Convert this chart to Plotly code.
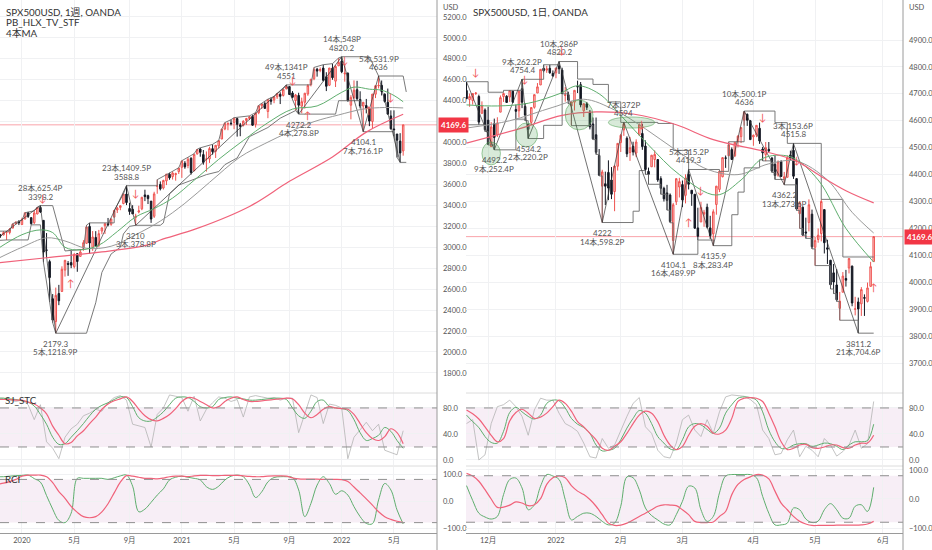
import pandas as pd
import plotly.graph_objects as go
from plotly.subplots import make_subplots

FONT = "Lato, Noto Sans CJK JP, DejaVu Sans"
W, H = 932, 550

# ---------------- weekly candles, weeks starting 2019-11-11 ----------------
w_open = [3080, 3118, 3117, 3144, 3141, 3183, 3225, 3240,
          3217, 3271, 3330, 3283, 3235, 3318, 3380, 3257, 2974, 2863, 2508, 2290, 2558, 2578, 2782,
          2846, 2854, 2815, 2938, 2913, 2990, 3038, 3199, 3000, 3094, 3018, 3155, 3205, 3224, 3219,
          3288, 3356, 3380, 3418, 3508, 3370, 3363, 3285, 3337, 3367, 3500, 3493, 3441, 3296, 3583,
          3600, 3566, 3634, 3698, 3675, 3694, 3723,
          3764, 3803, 3781, 3851, 3732, 3892, 3939, 3885, 3842, 3844, 3942, 3916, 3969, 4034, 4130,
          4179, 4186, 4192, 4229, 4169, 4165, 4210, 4230, 4250, 4174, 4285, 4352, 4372, 4297, 4409,
          4406, 4437, 4461, 4450, 4514, 4535, 4474, 4402, 4450, 4348, 4385, 4464, 4553, 4610, 4701,
          4689, 4712, 4628, 4548, 4710, 4587, 4733,
          4778, 4655, 4663, 4357, 4431, 4505, 4412, 4349, 4354, 4327, 4202, 4462, 4541, 4547, 4462,
          4385, 4255, 4130, 4082, 4014, 3920]
w_high = [3121, 3127, 3154, 3150, 3183, 3226, 3248, 3259,
          3282, 3330, 3338, 3285, 3348, 3385, 3398.2, 3259, 3136, 2882, 2553, 2615, 2641, 2818, 2880,
          2869, 2965, 2945, 2945, 2980, 3068, 3211, 3233, 3155, 3154, 3166, 3190, 3233, 3280, 3272,
          3352, 3387, 3399, 3509, 3588.8, 3425, 3402, 3320, 3397, 3482, 3550, 3502, 3441, 3530, 3646,
          3629, 3645, 3699, 3712, 3726, 3712, 3760,
          3827, 3823, 3860, 3859, 3894, 3937, 3950, 3929, 3915, 3960, 3983, 3975, 4020, 4130, 4191,
          4195, 4219, 4238, 4237, 4188, 4213, 4236, 4255, 4262, 4286, 4356, 4372, 4393, 4415, 4430,
          4441, 4469, 4481, 4513, 4551, 4535, 4492, 4465, 4476, 4429, 4475, 4559, 4608, 4718, 4714,
          4718, 4744, 4672, 4713, 4754, 4740, 4808,
          4820.2, 4749, 4670, 4453, 4594, 4590, 4490, 4385, 4417, 4327, 4465, 4546, 4636, 4593, 4471,
          4516, 4308, 4308, 4082, 4090, 4170]
w_low = [3065, 3091, 3114, 3070, 3123, 3183, 3222, 3212,
         3214, 3264, 3280, 3214, 3222, 3315, 3328, 2855, 2900, 2478, 2280, 2179.3, 2447, 2573, 2720,
         2727, 2800, 2797, 2766, 2910, 2967, 3031, 2936, 2966, 3004, 3000, 3125, 3127, 3200, 3205,
         3284, 3327, 3354, 3410, 3403, 3310, 3323, 3210, 3324, 3354, 3441, 3413, 3233, 3280, 3511,
         3543, 3552, 3594, 3645, 3647, 3636, 3700,
         3663, 3750, 3755, 3694, 3725, 3885, 3865, 3789, 3723, 3806, 3885, 3853, 3944, 4034, 4118,
         4118, 4164, 4128, 4057, 4061, 4154, 4168, 4215, 4159, 4144, 4271, 4321, 4322, 4233, 4362,
         4376, 4417, 4368, 4440, 4508, 4457, 4423, 4306, 4272.2, 4280, 4324, 4447, 4537, 4596, 4630,
         4672, 4585, 4492, 4540, 4600, 4531, 4733,
         4663, 4582, 4395, 4222, 4415, 4401, 4327, 4104.1, 4279, 4157, 4136, 4425, 4517, 4450, 4382,
         4267, 4124, 4062, 3859, 3811.2, 3875]
w_close = [3120, 3110, 3141, 3146, 3169, 3221, 3240, 3235,
           3265, 3330, 3295, 3226, 3328, 3380, 3338, 2954, 2972, 2711, 2305, 2541, 2489, 2790, 2875,
           2837, 2830, 2930, 2864, 2955, 3044, 3194, 3041, 3098, 3009, 3130, 3185, 3225, 3216, 3271,
           3351, 3373, 3397, 3508, 3427, 3341, 3319, 3298, 3348, 3477, 3484, 3465, 3270, 3510, 3585,
           3558, 3638, 3699, 3663, 3709, 3703, 3756,
           3824, 3768, 3841, 3714, 3887, 3934, 3907, 3811, 3842, 3943, 3913, 3974, 4019, 4129, 4185,
           4180, 4181, 4232, 4174, 4156, 4204, 4230, 4247, 4166, 4281, 4352, 4370, 4327, 4412, 4395,
           4437, 4468, 4442, 4509, 4535, 4459, 4433, 4455, 4357, 4391, 4471, 4545, 4605, 4698, 4683,
           4698, 4595, 4538, 4712, 4620, 4727, 4766,
           4677, 4663, 4398, 4432, 4501, 4419, 4349, 4385, 4329, 4205, 4463, 4543, 4546, 4488, 4393,
           4272, 4132, 4123, 4023, 3901, 4169.6]
w_dates = pd.date_range("2019-11-11", periods=len(w_close), freq="7D")

# ---------------- daily candles 2021-11-22 .. 2022-05-27 ----------------
d_open = [4712, 4679, 4675, 4701, 4690, 4628, 4640,
          4602, 4504, 4589, 4548, 4632, 4690, 4691, 4688, 4710, 4642, 4637, 4719, 4653, 4587, 4594,
          4650, 4703, 4733, 4795, 4788, 4795, 4776,
          4778, 4804, 4788, 4694, 4697, 4655, 4669, 4728, 4734, 4637, 4663, 4632, 4588, 4548, 4471,
          4357, 4366, 4408, 4380, 4337, 4431,
          4519, 4566, 4535, 4482, 4505, 4480, 4547, 4553, 4506, 4412, 4429, 4456, 4456, 4385, 4349,
          4332, 4324, 4155, 4299, 4354,
          4363, 4323, 4401, 4342, 4327, 4202, 4224, 4253, 4279, 4202, 4180, 4289, 4345, 4392, 4462,
          4470, 4493, 4470, 4523, 4541, 4602, 4624, 4600,
          4540, 4547, 4572, 4495, 4474, 4494, 4462, 4438, 4398, 4449, 4385, 4390, 4473, 4490, 4385,
          4255, 4279, 4187, 4222, 4253,
          4130, 4159, 4181, 4270, 4128, 4082, 4035, 3990, 3903, 3963, 4014, 4053, 4060, 3900, 3927,
          3920, 3943, 3929, 3985, 4077]
d_high = [4744.6, 4701, 4702, 4706, 4697, 4672, 4646,
          4652, 4595, 4608, 4613, 4694, 4705, 4695, 4713, 4711, 4660, 4712, 4754.4, 4666, 4587, 4651,
          4697, 4740, 4791, 4808, 4804, 4808, 4787,
          4796, 4820.2, 4797, 4725, 4708, 4673, 4714, 4749, 4744, 4665, 4670, 4640, 4612, 4612, 4495,
          4418, 4411, 4453, 4428, 4432, 4516,
          4551, 4594, 4542, 4540, 4522, 4531, 4590, 4589, 4527, 4426, 4473, 4490, 4456, 4394, 4355,
          4362, 4330, 4295, 4385, 4388,
          4378, 4401, 4419.3, 4342, 4327, 4277, 4299, 4269, 4292, 4247, 4271, 4358, 4412, 4465, 4471,
          4522, 4501, 4520, 4546, 4575, 4636, 4627, 4603,
          4549, 4583, 4593, 4503, 4521, 4521, 4464, 4471, 4453, 4453, 4410, 4471, 4489, 4515.8, 4386,
          4299, 4279, 4240, 4308, 4270,
          4169, 4200, 4308, 4270, 4158, 4082, 4068, 4049, 3964, 4038, 4046, 4090, 4062, 3946, 3943,
          3982, 3955, 3999, 4076, 4170]
d_low = [4682, 4652, 4660, 4696, 4585, 4625, 4560,
         4510, 4504, 4492.2, 4540, 4632, 4670, 4666, 4670, 4666, 4606, 4612, 4647, 4600, 4534.2, 4583,
         4645, 4703, 4733, 4780, 4778, 4775, 4765,
         4758, 4774, 4700, 4671, 4663, 4582, 4638, 4703, 4650, 4614, 4640, 4568, 4530, 4475, 4395,
         4222, 4287, 4305, 4309, 4264, 4415,
         4484, 4544, 4465, 4451, 4471, 4465, 4547, 4492, 4401, 4364, 4429, 4427, 4373, 4327, 4300,
         4268, 4221, 4104.1, 4287, 4315,
         4279, 4293, 4345, 4284, 4199, 4157, 4224, 4206, 4200, 4161, 4135.9, 4251, 4335, 4390, 4425,
         4469, 4455, 4465, 4501, 4517, 4582, 4581, 4530,
         4507, 4539, 4514, 4451, 4450, 4483, 4408, 4382, 4392, 4392, 4362.2, 4390, 4452, 4384, 4267,
         4200, 4175, 4163, 4189, 4124,
         4062, 4147, 4152, 4107, 4068, 3975, 3958, 3929, 3859, 3963, 3984, 4033, 3911, 3877, 3811.2,
         3875, 3875, 3925, 3985, 4077]
d_close = [4682, 4690, 4701, 4703, 4595, 4655, 4567,
           4513, 4577, 4538, 4592, 4686, 4701, 4668, 4712, 4669, 4635, 4710, 4669, 4621, 4568, 4649,
           4697, 4726, 4791, 4786, 4793, 4778, 4766,
           4796, 4793, 4701, 4696, 4677, 4670, 4713, 4726, 4659, 4663, 4650, 4577, 4533, 4483, 4398,
           4410, 4357, 4350, 4327, 4432, 4516,
           4546, 4589, 4477, 4500, 4484, 4521, 4587, 4504, 4419, 4401, 4472, 4475, 4380, 4349, 4310,
           4304, 4226, 4288, 4385, 4374,
           4306, 4387, 4364, 4329, 4201, 4171, 4278, 4260, 4205, 4173, 4262, 4357, 4412, 4463, 4461,
           4511, 4456, 4520, 4543, 4575, 4631, 4602, 4530,
           4546, 4583, 4525, 4481, 4500, 4488, 4413, 4397, 4447, 4393, 4392, 4463, 4460, 4394, 4272,
           4296, 4175, 4183, 4288, 4132,
           4155, 4175, 4300, 4147, 4123, 3991, 4001, 3935, 3930, 4023, 4008, 4088, 3923, 3901, 3901,
           3973, 3941, 3979, 4058, 4169.6]
d_skip = ["2021-12-24", "2022-04-15"]
d_dates = [d for d in pd.bdate_range("2021-11-22", "2022-05-27") if d.strftime("%Y-%m-%d") not in d_skip]

last_price = 4169.6

# ---------------- moving averages ----------------
w_ma_green_x = ["2019-11-11", "2020-01-06", "2020-02-17", "2020-03-16", "2020-04-13", "2020-05-18",
                "2020-06-29", "2020-08-10", "2020-09-21", "2020-11-02", "2020-12-14", "2021-02-01",
                "2021-03-29", "2021-05-24", "2021-07-19", "2021-09-13", "2021-11-08", "2022-01-03",
                "2022-01-31", "2022-03-07", "2022-04-04", "2022-05-02", "2022-05-23"]
w_ma_green = [2984, 3120, 3166, 3140, 3000, 2975, 3020, 3150, 3290, 3370, 3470, 3640,
              3840, 4020, 4190, 4320, 4350, 4480, 4530, 4510, 4500, 4450, 4390]
w_ma_gray_x = ["2019-11-11", "2020-01-06", "2020-03-02", "2020-04-13", "2020-06-01", "2020-07-27",
               "2020-09-21", "2020-11-16", "2021-01-11", "2021-03-08", "2021-05-17", "2021-07-12",
               "2021-09-06", "2021-11-01", "2021-12-27", "2022-02-21", "2022-04-11", "2022-05-23"]
w_ma_gray = [2890, 3000, 3090, 3060, 2990, 3010, 3120, 3250, 3420, 3620, 3863, 3990,
             4102, 4200, 4264, 4320, 4335, 4331]
w_ma_red_x = ["2019-11-11", "2020-03-02", "2020-07-06", "2020-10-19", "2020-11-16", "2021-02-08",
              "2021-06-07", "2021-09-06", "2021-12-13", "2022-02-28", "2022-05-23"]
w_ma_red = [2850, 2900, 2956, 3023, 3070, 3180, 3390, 3630, 3863, 4100, 4270]

d_ma_green_x = ["2021-11-22", "2021-12-06", "2021-12-20", "2022-01-04", "2022-01-12", "2022-01-21",
                "2022-02-01", "2022-02-14", "2022-02-28", "2022-03-16", "2022-03-28", "2022-04-06",
                "2022-04-20", "2022-05-03", "2022-05-16", "2022-05-27"]
d_ma_green = [4659, 4655, 4665, 4700, 4730, 4700, 4620, 4510, 4400, 4324, 4380, 4460,
              4466, 4380, 4200, 4075]
d_ma_gray_x = ["2021-11-22", "2021-12-10", "2021-12-31", "2022-01-14", "2022-01-28", "2022-02-11",
               "2022-02-25", "2022-03-11", "2022-03-25", "2022-04-08", "2022-04-22", "2022-05-06",
               "2022-05-18", "2022-05-27"]
d_ma_gray = [4573, 4600, 4650, 4680, 4640, 4570, 4490, 4420, 4400, 4440, 4450, 4380, 4260, 4183]
d_ma_red_x = ["2021-11-22", "2021-12-15", "2022-01-05", "2022-01-20", "2022-02-07", "2022-02-25",
              "2022-03-15", "2022-04-07", "2022-04-22", "2022-05-03", "2022-05-16", "2022-05-27"]
d_ma_red = [4517, 4570, 4620, 4633, 4625, 4585, 4530, 4485, 4450, 4400, 4340, 4295]

# ---------------- PB_HLX channel + zigzag ----------------
w_up_x = ["2019-11-11", "2019-12-09", "2019-12-16", "2020-01-06", "2020-01-13", "2020-02-03",
          "2020-02-10", "2020-02-17", "2020-03-16", "2020-04-13", "2020-05-25", "2020-06-01",
          "2020-06-08", "2020-08-03", "2020-08-03", "2020-08-24", "2020-08-31", "2020-11-09",
          "2020-11-09", "2020-11-30", "2020-12-14", "2020-12-28", "2021-01-04", "2021-01-18",
          "2021-02-01", "2021-02-08", "2021-02-15", "2021-03-15", "2021-03-29", "2021-04-05",
          "2021-04-12", "2021-04-26", "2021-05-03", "2021-06-07", "2021-06-21", "2021-06-28",
          "2021-07-12", "2021-07-19", "2021-08-02", "2021-08-09", "2021-08-23", "2021-08-30",
          "2021-10-25", "2021-11-01", "2021-11-22", "2021-12-13", "2021-12-27", "2022-01-03",
          "2022-03-07", "2022-03-28", "2022-05-23", "2022-05-30"]
w_up = [3154, 3154, 3226, 3259, 3330, 3348, 3385, 3398, 3398, 2965, 2980, 3211,
        3233, 3233, 3352, 3509, 3588, 3588, 3646, 3699, 3726, 3760, 3827, 3860,
        3894, 3937, 3950, 3983, 4020, 4130, 4191, 4219, 4238, 4255, 4286, 4356,
        4393, 4415, 4441, 4469, 4513, 4551, 4551, 4718, 4744, 4754, 4808, 4820,
        4820, 4636, 4636, 4484]
w_lo_x = ["2019-11-11", "2019-12-02", "2020-01-20", "2020-01-27", "2020-02-17", "2020-02-24",
          "2020-03-09", "2020-03-16", "2020-03-23", "2020-06-01", "2020-06-22", "2020-07-06",
          "2020-07-27", "2020-08-17", "2020-08-24", "2020-09-07", "2020-09-21", "2020-11-16",
          "2020-11-23", "2020-12-07", "2020-12-28", "2021-01-25", "2021-02-08", "2021-03-01",
          "2021-03-29", "2021-04-12", "2021-05-10", "2021-06-07", "2021-07-19", "2021-08-16",
          "2021-09-20", "2021-09-27", "2021-12-20", "2021-12-27", "2022-02-14", "2022-02-21",
          "2022-05-02", "2022-05-09", "2022-05-16", "2022-05-30"]
w_lo = [3065, 3070, 3070, 3214, 3214, 2855, 2478, 2280, 2179, 2179, 2470, 2760,
        2936, 3000, 3127, 3200, 3210, 3210, 3233, 3511, 3594, 3636, 3663, 3694,
        3723, 3789, 3853, 4057, 4144, 4233, 4306, 4272, 4272, 4400, 4400, 4104,
        4104, 3859, 3811, 3811]
w_zz_x = ["2019-08-05", "2020-02-17", "2020-03-23", "2020-08-31", "2020-09-21", "2021-08-30",
          "2021-09-27", "2022-01-03", "2022-02-21", "2022-03-28", "2022-05-16"]
w_zz = [2772.8, 3398.2, 2179.3, 3588.8, 3210, 4551, 4272.2, 4820.2, 4104.1, 4636, 3811.2]

d_up_x = ["2021-11-22", "2021-12-01", "2021-12-08", "2021-12-16", "2021-12-28", "2022-01-04",
          "2022-01-12", "2022-01-19", "2022-01-26", "2022-02-01", "2022-02-17", "2022-02-24",
          "2022-03-03", "2022-03-17", "2022-03-22", "2022-03-29", "2022-04-12", "2022-04-19",
          "2022-05-04", "2022-05-13", "2022-05-27"]
d_up = [4745, 4706, 4713, 4754, 4808, 4820, 4755, 4735, 4670, 4594, 4590, 4490,
        4419, 4412, 4522, 4636, 4593, 4516, 4308, 4094, 4094]
d_lo_x = ["2021-11-22", "2021-11-30", "2021-12-01", "2021-12-03", "2021-12-14", "2021-12-17",
          "2021-12-20", "2021-12-28", "2022-01-05", "2022-01-07", "2022-01-10", "2022-01-19",
          "2022-01-20", "2022-01-21", "2022-01-24", "2022-02-07", "2022-02-09", "2022-02-11",
          "2022-02-14", "2022-02-18", "2022-02-22", "2022-02-23", "2022-02-24", "2022-03-08",
          "2022-03-15", "2022-03-23", "2022-03-25", "2022-03-29", "2022-04-05", "2022-04-06",
          "2022-04-11", "2022-04-12", "2022-04-18", "2022-04-22", "2022-04-25", "2022-04-26",
          "2022-04-27", "2022-04-29", "2022-05-02", "2022-05-09", "2022-05-10", "2022-05-11",
          "2022-05-12", "2022-05-20", "2022-05-27"]
d_lo = [4585, 4560, 4510, 4492, 4606, 4600, 4534, 4583, 4700, 4663, 4582, 4530,
        4475, 4395, 4222, 4264, 4415, 4401, 4364, 4327, 4268, 4221, 4104, 4157,
        4136, 4251, 4335, 4425, 4455, 4451, 4408, 4382, 4362, 4267, 4200, 4175,
        4163, 4124, 4062, 3975, 3958, 3929, 3859, 3811, 3811]
d_zz_x = ["2021-11-22", "2021-12-03", "2021-12-16", "2021-12-20", "2022-01-04", "2022-01-24",
          "2022-02-02", "2022-02-24", "2022-03-03", "2022-03-15", "2022-03-29", "2022-04-18",
          "2022-04-21", "2022-05-20"]
d_zz = [4744.6, 4492.2, 4754.4, 4534.2, 4820.2, 4222, 4594, 4104.1, 4419.3, 4135.9, 4636,
        4362.2, 4515.8, 3811.2]

# swing labels
w_lab_x = ["2020-02-17", "2020-03-23", "2020-08-31", "2020-09-21", "2021-08-30", "2021-09-27",
           "2022-01-03", "2022-02-21", "2022-03-28"]
w_lab_y = [3398.2, 2179.3, 3588.8, 3210, 4551, 4272.2, 4820.2, 4104.1, 4636]
w_lab_text = ["28本,625.4P<br>3398.2", "2179.3<br>5本,1218.9P", "23本,1409.5P<br>3588.8",
              "3210<br>3本,378.8P", "49本,1341P<br>4551", "4272.2<br>4本,278.8P",
              "14本,548P<br>4820.2", "4104.1<br>7本,716.1P", "5本,531.9P<br>4636"]
d_lab_x = ["2021-12-03", "2021-12-16", "2021-12-20", "2022-01-04", "2022-01-24", "2022-02-02",
           "2022-02-24", "2022-03-03", "2022-03-15", "2022-03-29", "2022-04-18", "2022-04-21",
           "2022-05-20"]
d_lab_y = [4492.2, 4754.4, 4534.2, 4820.2, 4222, 4594, 4104.1, 4419.3, 4135.9, 4636, 4362.2,
           4515.8, 3811.2]
d_lab_text = ["4492.2<br>9本,252.4P", "9本,262.2P<br>4754.4", "4534.2<br>2本,220.2P",
              "10本,286P<br>4820.2", "4222<br>14本,598.2P", "7本,372P<br>4594",
              "4104.1<br>16本,489.9P", "5本,315.2P<br>4419.3", "4135.9<br>8本,283.4P",
              "10本,500.1P<br>4636", "4362.2<br>13本,273.6P", "3本,153.6P<br>4515.8",
              "3811.2<br>21本,704.6P"]

# signal arrows
w_arrow_x = ["2020-02-24", "2020-09-21", "2020-04-27", "2021-09-13", "2021-10-18", "2022-01-10",
             "2022-04-25", "2022-03-07"]
w_arrow_y = [3471, 3519, 2659, 4598, 4264, 4789, 4436, 4311]
w_arrow = ["↓", "↓", "↑", "↓", "↑", "↓", "↓", "↑"]
d_arrow_x = ["2021-11-25", "2021-12-17", "2022-01-05", "2022-02-10", "2022-03-09", "2022-03-03",
             "2022-04-06", "2022-04-22", "2022-05-27"]
d_arrow_y = [4781, 4755, 4863, 4588, 4343, 4224, 4614, 4454, 3983]
d_arrow = ["↓", "↓", "↓", "↓", "↓", "↑", "↓", "↓", "↑"]

# highlighted zones (daily)
d_zone_x0 = ["2021-11-29", "2021-12-14", "2022-01-06", "2022-01-26"]
d_zone_x1 = ["2021-12-07", "2021-12-23", "2022-01-19", "2022-02-16"]
d_zone_y0 = [4436, 4503, 4566, 4573]
d_zone_y1 = [4521, 4592, 4677, 4614]

# ---------------- SJ_STC / RCI (every 2nd bar) ----------------
w_stc_gray = [95, 95, 92, 90, 92, 85, 62, 85, 28, 18, 2, 35, 48, 55, 68, 72, 78, 75, 88, 96,
              99, 92, 55, 52, 50, 20, 70, 80, 100, 98, 96, 75, 98, 60, 78, 88, 97, 95, 90, 93,
              66, 97, 99, 97, 95, 96, 92, 95, 95, 42, 72, 100, 96, 56, 86, 84, 80, 2, 35, 47,
              58, 45, 55, 15, 12, 8, 45]
w_stc_green = [95, 95, 94, 93, 91, 89, 83, 70, 55, 35, 24, 25, 35, 45, 56, 68, 78, 84, 88, 93,
               97, 96, 82, 65, 60, 60, 66, 74, 85, 95, 97, 96, 90, 82, 80, 82, 93, 96, 97, 95,
               94, 92, 92, 93, 94, 95, 95, 93, 80, 68, 64, 75, 90, 92, 82, 80, 79, 76, 62, 42,
               30, 33, 38, 50, 44, 30, 18]
w_stc_red = [93, 93, 93, 92, 92, 89, 86, 80, 71, 52, 38, 25, 27, 37, 45, 56, 66, 78, 86, 91,
             94, 97, 90, 78, 68, 62, 60, 64, 70, 79, 90, 96, 95, 90, 85, 80, 82, 90, 95, 97,
             93, 90, 90, 91, 92, 93, 94, 95, 94, 85, 72, 65, 70, 78, 82, 80, 79, 78, 70, 56,
             42, 33, 30, 36, 48, 42, 25]
w_rci_green = [90, 90, 92, 94, 95, 96, 83, 70, 20, -30, -72, -80, -45, 84, 84, 84, 84, 84, 80, 86,
               93, 96, 55, -40, -30, -5, 22, 45, 78, 88, 92, 88, 84, 78, 53, 43, 55, 78, 92, 96,
               90, 59, 13, 34, 71, 87, 90, 90, 87, 41, -58, -9, 59, 90, 65, 25, 38, 22, -21, -58,
               -83, -84, 4, 65, 41, -33, -85]
w_rci_red = [62, 66, 72, 80, 92, 96, 96, 96, 90, 68, 35, 10, -20, -42, -58, -62, -58, -40, -10, 30,
             70, 94, 92, 88, 84, 84, 82, 85, 90, 92, 92, 90, 93, 95, 95, 94, 94, 95, 95, 95,
             93, 91, 90, 90, 92, 93, 93, 92, 86, 82, 81, 81, 81, 80, 80, 80, 79, 72, 52, 30,
             8, -15, -40, -58, -68, -75, -80]

d_stc_gray = [56, 62, 0, 8, 56, 82, 85, 92, 82, 67, 38, 77, 95, 92, 92, 72, 56, 51, 44, 26,
              5, 3, 33, 18, 23, 46, 67, 87, 96, 51, 41, 15, 5, 3, 26, 62, 69, 46, 36, 62,
              41, 74, 97, 100, 99, 98, 93, 85, 46, 33, 8, 10, 31, 46, 5, 21, 15, 5, 33, 23,
              6, 13, 23, 46, 18, 25, 90]
d_stc_green = [69, 59, 50, 36, 27, 26, 44, 73, 81, 74, 67, 63, 69, 87, 92, 91, 80, 64, 55, 50,
               41, 23, 14, 15, 18, 31, 49, 64, 76, 72, 56, 36, 26, 17, 16, 31, 51, 56, 54, 47,
               41, 49, 72, 85, 95, 97, 96, 92, 74, 46, 28, 18, 18, 23, 25, 25, 21, 23, 26, 25,
               21, 16, 23, 28, 28, 30, 55]
d_stc_red = [77, 71, 63, 51, 38, 28, 33, 60, 73, 78, 72, 64, 66, 72, 82, 92, 87, 75, 59, 51,
             41, 31, 18, 15, 21, 28, 41, 56, 69, 75, 72, 59, 38, 23, 16, 21, 38, 52, 56, 52,
             41, 40, 46, 64, 90, 95, 96, 95, 90, 72, 51, 28, 16, 18, 23, 24, 19, 18, 20, 23,
             23, 19, 18, 23, 26, 26, 38]
d_rci_green = [46, -5, -49, -62, -69, -60, 15, 67, 72, 38, -37, -20, 44, 84, 79, 67, -2, -72, -60, -49,
               -49, -60, -77, -89, -83, -25, 76, 73, 32, -31, -57, -72, -86, -89, -54, -8, 44, 38, -37, -77,
               -60, 21, 79, 84, 84, 84, 84, 73, 9, -49, -89, -89, -83, -31, -37, -69, -81, -76, -37, -16,
               -37, -66, -66, -25, -20, -43, 40]
d_rci_red = [88, 79, 61, 32, 0, -29, -28, -21, -10, -14, -23, -20, 1, 50, 73, 79, 73, 46, 27, 15,
             -2, -25, -54, -83, -91, -90, -83, -72, -60, -49, -37, -25, -20, -21, -23, -37, -54, -77, -81, -81,
             -79, -60, -43, 15, 50, 67, 76, 84, 82, 69, 27, -14, -37, -60, -77, -86, -91, -91, -91, -91,
             -90, -90, -90, -90, -89, -86, -77]

w_osc_x = w_dates[::2]
d_osc_x = d_dates[::2]

# axis ticks
w_tick_vals = ["2020-01-06", "2020-05-04", "2020-09-07", "2021-01-04", "2021-05-03", "2021-09-06",
               "2022-01-03", "2022-05-02"]
w_tick_text = ["2020", "5月", "9月", "2021", "5月", "9月", "2022", "5月"]
d_tick_vals = ["2021-12-01", "2022-01-03", "2022-02-01", "2022-03-01", "2022-04-01", "2022-05-02",
               "2022-06-01"]
d_tick_text = ["12月", "2022", "2月", "3月", "4月", "5月", "6月"]
w_price_ticks = list(range(1800, 5201, 200))
d_price_ticks = list(range(3700, 4901, 100))

# ---------------- colours ----------------
C_UP_LINE, C_UP_FILL = "#ef5350", "#fbd0d0"
C_DN = "#131722"
C_GREEN, C_GRAY, C_RED = "#5fae6e", "#9a9a9a", "#f0627a"
C_CHAN, C_ZZ = "#6a6a6a", "#333333"
C_TXT = "#555555"
BAND = "#f7eef6"

fig = make_subplots(rows=3, cols=2, shared_xaxes=True, horizontal_spacing=0.05, vertical_spacing=0.01)


def add_line(x, y, color, width, row, col, shape="linear"):
    fig.add_trace(go.Scatter(x=x, y=y, mode="lines", line=dict(color=color, width=width, shape=shape),
                             hoverinfo="skip", showlegend=False), row=row, col=col)


def add_candles(x, o, h, l, c, col):
    fig.add_trace(go.Candlestick(x=x, open=o, high=h, low=l, close=c, whiskerwidth=0,
                                 increasing=dict(line=dict(color=C_UP_LINE, width=1), fillcolor=C_UP_FILL),
                                 decreasing=dict(line=dict(color=C_DN, width=1), fillcolor=C_DN),
                                 showlegend=False, hoverinfo="skip"), row=1, col=col)


# ---- left: weekly ----
add_candles(w_dates, w_open, w_high, w_low, w_close, 1)
add_line(w_up_x, w_up, C_CHAN, 0.9, 1, 1)
add_line(w_lo_x, w_lo, C_CHAN, 0.9, 1, 1)
add_line(w_zz_x, w_zz, C_ZZ, 0.7, 1, 1)
add_line(w_ma_gray_x, w_ma_gray, C_GRAY, 1, 1, 1, "spline")
add_line(w_ma_green_x, w_ma_green, C_GREEN, 1, 1, 1, "spline")
add_line(w_ma_red_x, w_ma_red, C_RED, 1.2, 1, 1, "spline")
add_line(w_osc_x, w_stc_gray, "#b4b4b4", 0.8, 2, 1)
add_line(w_osc_x, w_stc_green, C_GREEN, 1, 2, 1, "spline")
add_line(w_osc_x, w_stc_red, C_RED, 1.2, 2, 1, "spline")
add_line(w_osc_x, w_rci_green, C_GREEN, 1, 3, 1, "spline")
add_line(w_osc_x, w_rci_red, C_RED, 1.2, 3, 1, "spline")

# ---- right: daily ----
add_candles(d_dates, d_open, d_high, d_low, d_close, 2)
add_line(d_up_x, d_up, C_CHAN, 0.9, 1, 2, "hv")
add_line(d_lo_x, d_lo, C_CHAN, 0.9, 1, 2, "hv")
add_line(d_zz_x, d_zz, C_ZZ, 0.7, 1, 2)
add_line(d_ma_gray_x, d_ma_gray, C_GRAY, 1, 1, 2, "spline")
add_line(d_ma_green_x, d_ma_green, C_GREEN, 1, 1, 2, "spline")
add_line(d_ma_red_x, d_ma_red, C_RED, 1.2, 1, 2, "spline")
add_line(d_osc_x, d_stc_gray, "#b4b4b4", 0.8, 2, 2)
add_line(d_osc_x, d_stc_green, C_GREEN, 1, 2, 2, "spline")
add_line(d_osc_x, d_stc_red, C_RED, 1.2, 2, 2, "spline")
add_line(d_osc_x, d_rci_green, C_GREEN, 1, 3, 2, "spline")
add_line(d_osc_x, d_rci_red, C_RED, 1.2, 3, 2, "spline")

# ---------------- axes / domains ----------------
LEFT = [0, 437 / W]
RIGHT = [466 / W, 903 / W]
MAIN = [1 - 393 / H, 1]
STC = [1 - 465 / H, 1 - 393 / H]
RCI = [1 - 533 / H, 1 - 467 / H]
grid = "#f0f1f3"
axis_line = "#9a9a9a"
tick_font = dict(family=FONT, size=7.5, color=C_TXT)

for n, dom in zip(["", "3", "5"], [MAIN, STC, RCI]):
    fig.layout["xaxis" + n].update(domain=LEFT, range=["2019-11-17", "2022-08-08"], tickvals=w_tick_vals,
                                   ticktext=w_tick_text, showgrid=True, gridcolor=grid, zeroline=False,
                                   rangeslider=dict(visible=False), tickfont=tick_font, ticks="")
    fig.layout["yaxis" + n].update(domain=dom)
for n, dom in zip(["2", "4", "6"], [MAIN, STC, RCI]):
    fig.layout["xaxis" + n].update(domain=RIGHT, range=["2021-11-19 20:00", "2022-06-09 12:00"],
                                   tickvals=d_tick_vals, ticktext=d_tick_text, showgrid=True, gridcolor=grid,
                                   zeroline=False, rangeslider=dict(visible=False), tickfont=tick_font, ticks="",
                                   rangebreaks=[dict(bounds=["sat", "mon"]), dict(values=d_skip)])
    fig.layout["yaxis" + n].update(domain=dom)
for n in ["5", "6"]:
    fig.layout["xaxis" + n].update(showticklabels=True, showline=True, linecolor=axis_line, linewidth=1)

fig.update_yaxes(side="right", showgrid=True, gridcolor=grid, zeroline=False, tickformat=".1f",
                 tickfont=tick_font, ticks="", showline=False, ticklabelstandoff=5)
fig.layout.yaxis.update(range=[1608, 5362], tickvals=w_price_ticks)
fig.layout.yaxis2.update(range=[3588.7, 5048.6], tickvals=d_price_ticks)
fig.layout.yaxis3.update(range=[-7.7, 103], tickvals=[0, 40, 80])
fig.layout.yaxis4.update(range=[-7.7, 103], tickvals=[0, 40, 80])
fig.layout.yaxis5.update(range=[-118.5, 126], tickvals=[-100, 0, 100])
fig.layout.yaxis6.update(range=[-117, 110], tickvals=[-100, 0, 100])

# ---------------- shapes ----------------
shapes = []
for xa, ya in [("x3", "y3"), ("x4", "y4")]:
    shapes.append(dict(type="rect", xref=xa + " domain", yref=ya, x0=0, x1=1, y0=20, y1=80,
                       fillcolor=BAND, line=dict(width=0), layer="below"))
    for lvl in (20, 80):
        shapes.append(dict(type="line", xref=xa + " domain", yref=ya, x0=0, x1=1, y0=lvl, y1=lvl,
                           line=dict(color="#8f8f8f", width=1, dash="dash")))
for xa, ya in [("x5", "y5"), ("x6", "y6")]:
    shapes.append(dict(type="rect", xref=xa + " domain", yref=ya, x0=0, x1=1, y0=-80, y1=80,
                       fillcolor=BAND, line=dict(width=0), layer="below"))
    for lvl in (-80, 80):
        shapes.append(dict(type="line", xref=xa + " domain", yref=ya, x0=0, x1=1, y0=lvl, y1=lvl,
                           line=dict(color="#8f8f8f", width=1, dash="dash")))
for xa, ya in [("x", "y"), ("x2", "y2")]:
    shapes.append(dict(type="line", xref=xa + " domain", yref=ya, x0=0, x1=1, y0=last_price, y1=last_price,
                       line=dict(color="rgba(242,54,69,0.45)", width=1), layer="below"))
for x0, x1, y0, y1 in zip(d_zone_x0, d_zone_x1, d_zone_y0, d_zone_y1):
    shapes.append(dict(type="circle", xref="x2", yref="y2", x0=x0, x1=x1, y0=y0, y1=y1,
                       fillcolor="rgba(76,160,80,0.22)", line=dict(color="rgba(76,160,80,0.55)", width=1)))
for dom in (LEFT, RIGHT):
    for yy in (1 - 393 / H, 1 - 466 / H):
        shapes.append(dict(type="line", xref="paper", yref="paper", x0=dom[0], x1=dom[1], y0=yy, y1=yy,
                           line=dict(color="#dcdcdc", width=1)))
    # price-scale separator running the full height
    shapes.append(dict(type="line", xref="paper", yref="paper", x0=dom[1], x1=dom[1], y0=0, y1=1,
                       line=dict(color=axis_line, width=1)))
fig.update_layout(shapes=shapes)

# ---------------- annotations ----------------
ann = []


def label(x, y, text, xr, yr):
    lines = text.split("<br>")
    above = lines[0].endswith("P")
    shifts = (17.5, 9) if above else (-10.5, -19)
    for t, s in zip(lines, shifts):
        ann.append(dict(x=x, y=y, xref=xr, yref=yr, text=t, showarrow=False, yshift=s,
                        font=dict(family=FONT, size=8, color=C_TXT)))


for x, y, t in zip(w_lab_x, w_lab_y, w_lab_text):
    label(x, y, t, "x", "y")
for x, y, t in zip(d_lab_x, d_lab_y, d_lab_text):
    label(x, y, t, "x2", "y2")
for x, y, t in zip(w_arrow_x, w_arrow_y, w_arrow):
    ann.append(dict(x=x, y=y, xref="x", yref="y", text=t, showarrow=False,
                    font=dict(family=FONT, size=10, color="#f05a5a")))
for x, y, t in zip(d_arrow_x, d_arrow_y, d_arrow):
    ann.append(dict(x=x, y=y, xref="x2", yref="y2", text=t, showarrow=False,
                    font=dict(family=FONT, size=10, color="#f05a5a")))

title_font = dict(family=FONT, size=9.8, color="#333333")
for i, t in enumerate(["SPX500USD, 1週, OANDA", "PB_HLX_TV_STF", "4本MA"]):
    ann.append(dict(x=4 / W, y=1 - (12 + 10.5 * i) / H, xref="paper", yref="paper", text=t, showarrow=False,
                    xanchor="left", yanchor="middle", font=title_font))
ann.append(dict(x=471 / W, y=1 - 12 / H, xref="paper", yref="paper", text="SPX500USD, 1日, OANDA",
                showarrow=False, xanchor="left", yanchor="middle", font=title_font))
ann.append(dict(x=3 / W, y=1 - 400 / H, xref="paper", yref="paper", text="SJ_STC", showarrow=False,
                xanchor="left", yanchor="middle", font=dict(family=FONT, size=9.8, color="#333333")))
ann.append(dict(x=3 / W, y=1 - 479 / H, xref="paper", yref="paper", text="RCI", showarrow=False,
                xanchor="left", yanchor="middle", font=dict(family=FONT, size=9.8, color="#333333")))
for xp in (441 / W, 907 / W):
    ann.append(dict(x=xp, y=1 - 8 / H, xref="paper", yref="paper", text="USD", showarrow=False,
                    xanchor="left", yanchor="middle", font=dict(family=FONT, size=7.5, color=C_TXT)))
for xp, ya in ((438 / W, "y"), (904 / W, "y2")):
    ann.append(dict(x=xp, y=last_price, xref="paper", yref=ya, text="<b>4169.6</b>", showarrow=False,
                    xanchor="left", yanchor="middle", bgcolor="#f23645", borderpad=2,
                    font=dict(family=FONT, size=8, color="white")))

fig.update_layout(annotations=ann, width=W, height=H, margin=dict(l=0, r=0, t=0, b=0),
                  paper_bgcolor="white", plot_bgcolor="white", showlegend=False,
                  font=dict(family=FONT), hovermode=False)

fig.write_html("out.html", config={"displayModeBar": False},
               post_script="document.body.style.margin='0';document.body.style.overflow='hidden';")
